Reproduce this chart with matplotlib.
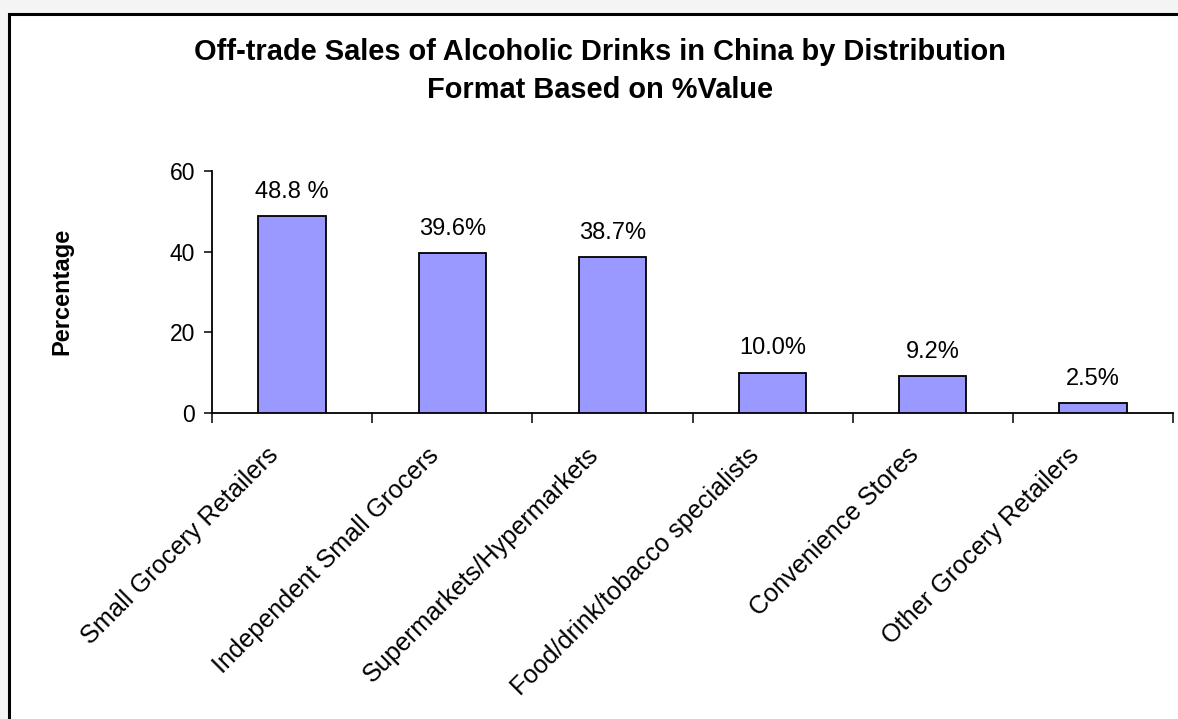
import matplotlib
matplotlib.use("Agg")
import matplotlib.pyplot as plt
from matplotlib.patches import Rectangle
from matplotlib.transforms import ScaledTranslation

# ---- data ----
categories = ["Small Grocery Retailers", "Independent Small Grocers",
              "Supermarkets/Hypermarkets", "Food/drink/tobacco specialists",
              "Convenience Stores", "Other Grocery Retailers"]
values = [48.8, 39.6, 38.7, 10.0, 9.2, 2.5]
value_labels = ["48.8 %", "39.6%", "38.7%", "10.0%", "9.2%", "2.5%"]
y_ticks = [0, 20, 40, 60]

TITLE = "Off-trade Sales of Alcoholic Drinks in China by Distribution\nFormat Based on %Value"
BAR_COLOR = "#9999FF"
BG_COLOR = "#F4F4F4"
FONT = "Liberation Sans"

plt.rcParams["font.family"] = FONT

fig = plt.figure(figsize=(11.78, 7.19), dpi=100, facecolor=BG_COLOR)

# white chart panel with black border (extends past right/bottom edge)
panel = Rectangle((9 / 1178, -0.1), 1.2, 1 - 14 / 719 + 0.1,
                  transform=fig.transFigure, facecolor="white",
                  edgecolor="black", linewidth=2.2, zorder=-5)
fig.patches.append(panel)

ax = fig.add_axes([212 / 1178, 1 - 413 / 719, (1173 - 212) / 1178, (413 - 171) / 719])
ax.patch.set_alpha(0)

x = [i + 0.5 for i in range(len(values))]
ax.bar(x, values, width=0.42, color=BAR_COLOR, edgecolor="black", linewidth=1.3, zorder=3)

for xi, v, lab in zip(x, values, value_labels):
    ax.annotate(lab, (xi, v), xytext=(0, 9.5), textcoords="offset points",
                ha="center", va="bottom", fontsize=17)

ax.set_xlim(0, len(values))
ax.set_ylim(0, 60)
ax.set_yticks(y_ticks)
ax.tick_params(axis="y", labelsize=16.5, length=6, width=1.1, pad=6, direction="out")

# category boundaries as major ticks, labels on minor ticks
ax.set_xticks(range(len(values) + 1))
ax.set_xticklabels([])
ax.tick_params(axis="x", which="major", length=7.5, width=1.1, direction="out")
ax.set_xticks(x, minor=True)
ax.set_xticklabels(categories, minor=True, rotation=45, ha="right",
                   rotation_mode="anchor", fontsize=18.2, va="top")
ax.tick_params(axis="x", which="minor", length=0, pad=0)
offset = ScaledTranslation(-26 / 100, -30 / 100, fig.dpi_scale_trans)
for lbl in ax.get_xticklabels(minor=True):
    lbl.set_transform(lbl.get_transform() + offset)

for side in ["top", "right"]:
    ax.spines[side].set_visible(False)
for side in ["left", "bottom"]:
    ax.spines[side].set_linewidth(1.3)

fig.text(62 / 1178, 1 - 291 / 719, "Percentage", rotation=90, fontsize=17,
         fontweight="bold", ha="center", va="center")

fig.text(600 / 1178, 1 - 71 / 719, TITLE, ha="center", va="center",
         fontsize=20.9, fontweight="bold", linespacing=1.5)

fig.savefig("out.png", dpi=100, facecolor=BG_COLOR)
